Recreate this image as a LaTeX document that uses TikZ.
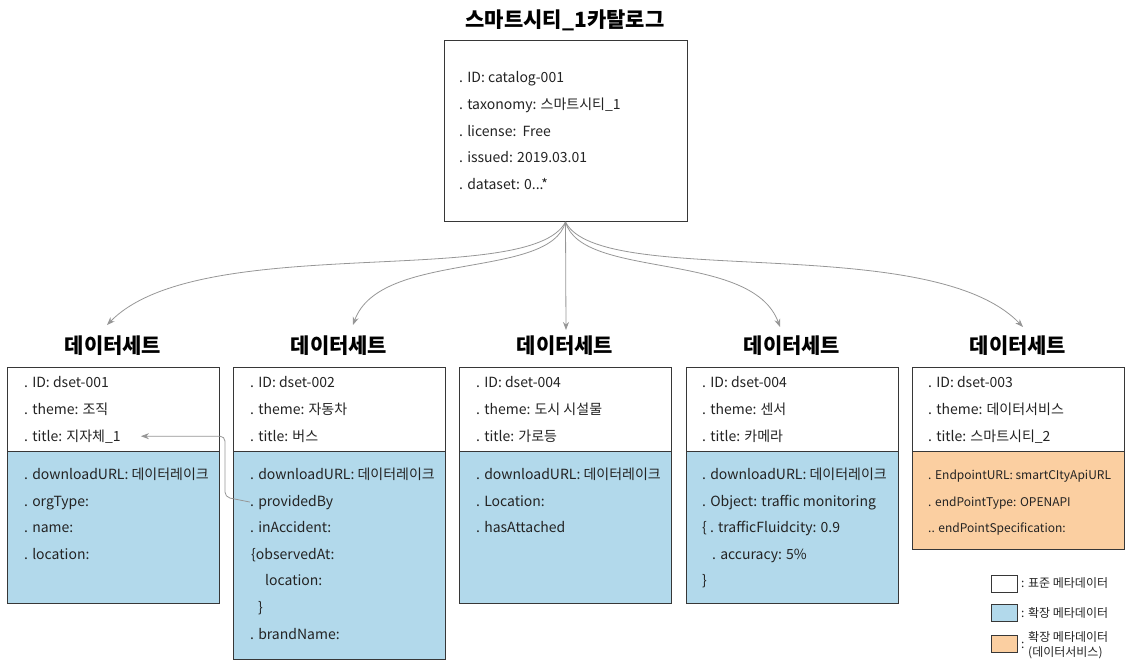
\documentclass[tikz,border=0pt]{standalone}
\usepackage{fontspec}
\setmainfont{Noto Sans CJK KR}
\usetikzlibrary{arrows.meta,calc}
\definecolor{extblue}{RGB}{178,217,235}
\definecolor{svcorange}{RGB}{251,207,161}
\definecolor{boxline}{RGB}{55,55,55}
\definecolor{arrowgray}{RGB}{150,150,150}
\definecolor{txtcol}{RGB}{35,35,35}
\begin{document}
\begin{tikzpicture}[x=1pt,y=-1pt,
  box/.style={draw=boxline, line width=1pt, inner sep=0pt, outer sep=0pt},
  txt/.style={anchor=base west, inner sep=0pt, font=\fontsize{14}{16}\selectfont, text=txtcol},
  stxt/.style={anchor=base west, inner sep=0pt, font=\fontsize{12}{14}\selectfont, text=txtcol},
  ltxt/.style={anchor=west, inner sep=0pt, font=\fontsize{12}{14}\selectfont, text=txtcol},
  ttl/.style={font=\bfseries\fontsize{21}{24}\selectfont, inner sep=0pt, text=black},
  conn/.style={draw=arrowgray, line width=0.8pt, -{Stealth[length=8pt,width=6pt]}},
  lgbox/.style={draw=boxline, line width=0.8pt, minimum width=26, minimum height=17, inner sep=0pt}
]
\useasboundingbox (0,0) rectangle (1127,660);

% catalog
\node[ttl] (cath) at (565,20) {스마트시티\_1카탈로그};
\node[box, fill=white, minimum width=243, minimum height=181, anchor=north west] (cat) at (444,41) {};
\node[txt] (c1) at (459,83) {. ID: catalog-001};
\node[txt] (c2) at (459,110) {. taxonomy: 스마트시티\_1};
\node[txt] (c3) at (459,137) {. license:\ \ Free};
\node[txt] (c4) at (459,163) {. issued: 2019.03.01};
\node[txt] (c5) at (459,190) {. dataset: 0...*};

% dataset boxes
\newcommand\dsbox[4]{%
  \node[box, fill=white, minimum width=212, minimum height=84, anchor=north west] (#1top) at (#2,367) {};
  \node[box, fill=#4, minimum width=212, minimum height=#3, anchor=north west] (#1bot) at (#2,451) {};
  \node[ttl] (#1h) at (#2+106,346) {데이터세트};
}
\dsbox{d1}{7}{152}{extblue}
\dsbox{d2}{233}{208}{extblue}
\dsbox{d3}{459}{152}{extblue}
\dsbox{d4}{686}{152}{extblue}
\dsbox{d5}{912}{98}{svcorange}

% box 1
\node[txt] (d1t1) at (24,387) {. ID: dset-001};
\node[txt] (d1t2) at (24,414) {. theme: 조직};
\node[txt] (d1t3) at (24,441) {. title: 지자체\_1};
\node[txt] (d1b1) at (24,479) {. downloadURL: 데이터레이크};
\node[txt] (d1b2) at (24,506) {. orgType:};
\node[txt] (d1b3) at (24,532) {. name:};
\node[txt] (d1b4) at (24,559) {. location:};

% box 2
\node[txt] (d2t1) at (250,387) {. ID: dset-002};
\node[txt] (d2t2) at (250,414) {. theme: 자동차};
\node[txt] (d2t3) at (250,441) {. title: 버스};
\node[txt] (d2b1) at (250,479) {. downloadURL: 데이터레이크};
\node[txt] (d2b2) at (250,506) {. providedBy};
\node[txt] (d2b3) at (250,532) {. inAccident:};
\node[txt] (d2b4) at (251,559) {\{observedAt:};
\node[txt] (d2b5) at (265,585) {location:};
\node[txt] (d2b6) at (258,612) {\}};
\node[txt] (d2b7) at (250,639) {. brandName:};

% box 3
\node[txt] (d3t1) at (476,387) {. ID: dset-004};
\node[txt] (d3t2) at (476,414) {. theme: 도시 시설물};
\node[txt] (d3t3) at (476,441) {. title: 가로등};
\node[txt] (d3b1) at (476,479) {. downloadURL: 데이터레이크};
\node[txt] (d3b2) at (476,506) {. Location:};
\node[txt] (d3b3) at (476,532) {. hasAttached};

% box 4
\node[txt] (d4t1) at (702,387) {. ID: dset-004};
\node[txt] (d4t2) at (702,414) {. theme: 센서};
\node[txt] (d4t3) at (702,441) {. title: 카메라};
\node[txt] (d4b1) at (702,479) {. downloadURL: 데이터레이크};
\node[txt] (d4b2) at (702,506) {. Object: traffic monitoring};
\node[txt] (d4b3) at (702,532) {\{ . trafficFluidcity: 0.9};
\node[txt] (d4b4) at (712,559) {. accuracy: 5\%};
\node[txt] (d4b5) at (702,585) {\}};

% box 5
\node[txt] (d5t1) at (928,387) {. ID: dset-003};
\node[txt] (d5t2) at (928,414) {. theme: 데이터서비스};
\node[txt] (d5t3) at (928,441) {. title: 스마트시티\_2};
\node[stxt] (d5b1) at (928,479) {. EndpointURL: smartCItyApiURL};
\node[stxt] (d5b2) at (928,506) {. endPointType: OPENAPI};
\node[stxt] (d5b3) at (928,532) {.. endPointSpecification:};

% arrows from catalog
\coordinate (tip1) at (107,325);
\coordinate (tip2) at (353,325);
\coordinate (tip3) at (566,330);
\coordinate (tip4) at (780,327);
\coordinate (tip5) at (1023,327);
\draw[conn] (cat.south) .. controls (530,290) and (200,230) .. (tip1);
\draw[conn] (cat.south) .. controls (550,280) and (380,250) .. (tip2);
\draw[conn] (cat.south) -- (tip3);
\draw[conn] (cat.south) .. controls (582,280) and (752,250) .. (tip4);
\draw[conn] (cat.south) .. controls (600,290) and (930,230) .. (tip5);

% providedBy -> title
\draw[conn, rounded corners=5pt, shorten >=20pt] (d2b2.west) -- ++(-25,-5) |- (d1t3.east);

% legend
\node[lgbox, fill=white] (lg1) at (1004,583.5) {};
\node[lgbox, fill=extblue] (lg2) at (1004,613) {};
\node[lgbox, fill=svcorange] (lg3) at (1004,644) {};
\node[ltxt] (lg1t) at (1021,583) {: 표준 메타데이터};
\node[ltxt] (lg2t) at (1021,613) {: 확장 메타데이터};
\node[ltxt] (lg3c) at (1021,645) {:};
\node[ltxt] (lg3t) at (1028,637) {확장 메타데이터};
\node[ltxt] (lg3u) at (1028,653) {(데이터서비스)};
\end{tikzpicture}
\end{document}
